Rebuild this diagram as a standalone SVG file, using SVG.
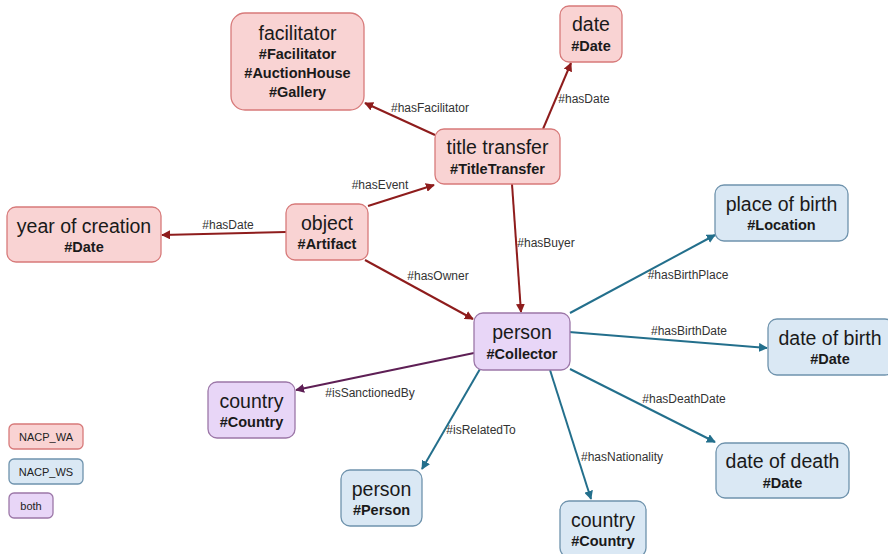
<svg xmlns="http://www.w3.org/2000/svg" width="888" height="554" viewBox="0 0 888 554">
<style>
text{font-family:"Liberation Sans",Arial,sans-serif;fill:#1a1a1a;text-anchor:middle}
.t{font-size:19.5px}
.b{font-size:14.5px;font-weight:bold}
.l{font-size:12px;fill:#333}
.lg{font-size:11px;fill:#222}
.wa{fill:#f9d3d3;stroke:#d77a7a;stroke-width:1.3}
.ws{fill:#dae8f4;stroke:#6f93ad;stroke-width:1.3}
.bo{fill:#e8d6f7;stroke:#9c77a8;stroke-width:1.3}
.er{stroke:#8e1c1c;stroke-width:2;fill:none;marker-end:url(#ar)}
.eb{stroke:#236f8c;stroke-width:2;fill:none;marker-end:url(#ab)}
.ep{stroke:#5e1f55;stroke-width:2;fill:none;marker-end:url(#ap)}
</style>
<defs>
<marker id="ar" viewBox="0 0 10 10" refX="9" refY="5" markerWidth="4.5" markerHeight="4.5" orient="auto" markerUnits="strokeWidth"><path d="M0,0 L10,5 L0,10 z" fill="#8e1c1c"/></marker>
<marker id="ab" viewBox="0 0 10 10" refX="9" refY="5" markerWidth="4.5" markerHeight="4.5" orient="auto" markerUnits="strokeWidth"><path d="M0,0 L10,5 L0,10 z" fill="#236f8c"/></marker>
<marker id="ap" viewBox="0 0 10 10" refX="9" refY="5" markerWidth="4.5" markerHeight="4.5" orient="auto" markerUnits="strokeWidth"><path d="M0,0 L10,5 L0,10 z" fill="#5e1f55"/></marker>
</defs>
<rect width="888" height="554" fill="#ffffff"/>
<g id="connectors">
<line class="er" x1="435" y1="135" x2="365" y2="103"/>
<line class="er" x1="543" y1="129" x2="571" y2="63"/>
<line class="er" x1="368" y1="206" x2="434" y2="185"/>
<line class="er" x1="286" y1="232" x2="162" y2="235"/>
<line class="er" x1="365" y1="260" x2="473" y2="319"/>
<line class="er" x1="512" y1="184" x2="521" y2="312"/>
<line class="eb" x1="570" y1="313" x2="715" y2="235"/>
<line class="eb" x1="569" y1="332" x2="767" y2="348"/>
<line class="ep" x1="474" y1="353" x2="296" y2="390"/>
<line class="eb" x1="480" y1="369" x2="422" y2="469"/>
<line class="eb" x1="550" y1="370" x2="591" y2="499"/>
<line class="eb" x1="570" y1="369" x2="715" y2="442"/>
<text class="l" x="430" y="112">#hasFacilitator</text>
<text class="l" x="584" y="103">#hasDate</text>
<text class="l" x="380" y="189">#hasEvent</text>
<text class="l" x="228" y="229">#hasDate</text>
<text class="l" x="438" y="280">#hasOwner</text>
<text class="l" x="546" y="247">#hasBuyer</text>
<text class="l" x="688" y="279">#hasBirthPlace</text>
<text class="l" x="689" y="335">#hasBirthDate</text>
<text class="l" x="370" y="397">#isSanctionedBy</text>
<text class="l" x="481" y="434">#isRelatedTo</text>
<text class="l" x="622" y="461">#hasNationality</text>
<text class="l" x="684" y="403">#hasDeathDate</text>
</g>
<g id="n-facilitator"><rect class="wa" x="231" y="13" width="133" height="97" rx="14"/><text class="t" x="297.5" y="40">facilitator</text><text class="b" x="297.5" y="59">#Facilitator</text><text class="b" x="297.5" y="78">#AuctionHouse</text><text class="b" x="297.5" y="97">#Gallery</text></g>
<g id="n-date"><rect class="wa" x="560" y="6" width="62" height="56" rx="9"/><text class="t" x="591" y="31">date</text><text class="b" x="591" y="51">#Date</text></g>
<g id="n-titletransfer"><rect class="wa" x="435" y="129" width="125" height="55" rx="9"/><text class="t" x="497.5" y="154">title transfer</text><text class="b" x="497.5" y="174">#TitleTransfer</text></g>
<g id="n-yearofcreation"><rect class="wa" x="7" y="207" width="154" height="55" rx="9"/><text class="t" x="84" y="233">year of creation</text><text class="b" x="84" y="252">#Date</text></g>
<g id="n-object"><rect class="wa" x="286" y="204" width="82" height="56" rx="9"/><text class="t" x="327" y="230">object</text><text class="b" x="327" y="249">#Artifact</text></g>
<g id="n-placeofbirth"><rect class="ws" x="715" y="185" width="133" height="56" rx="9"/><text class="t" x="781.5" y="211">place of birth</text><text class="b" x="781.5" y="230">#Location</text></g>
<g id="n-collector"><rect class="bo" x="474" y="313" width="96" height="57" rx="9"/><text class="t" x="522" y="339">person</text><text class="b" x="522" y="359">#Collector</text></g>
<g id="n-dateofbirth"><rect class="ws" x="768" y="319" width="126" height="56" rx="9"/><text class="t" x="830" y="345">date of birth</text><text class="b" x="830" y="364">#Date</text></g>
<g id="n-country-sanction"><rect class="bo" x="208" y="382" width="87" height="56" rx="9"/><text class="t" x="251.5" y="408">country</text><text class="b" x="251.5" y="427">#Country</text></g>
<g id="n-person"><rect class="ws" x="341" y="470" width="81" height="56" rx="9"/><text class="t" x="381.5" y="496">person</text><text class="b" x="381.5" y="515">#Person</text></g>
<g id="n-country-nat"><rect class="ws" x="560" y="501" width="86" height="56" rx="9"/><text class="t" x="603" y="527">country</text><text class="b" x="603" y="546">#Country</text></g>
<g id="n-dateofdeath"><rect class="ws" x="716" y="443" width="133" height="55" rx="9"/><text class="t" x="782.5" y="468">date of death</text><text class="b" x="782.5" y="488">#Date</text></g>
<g id="legend-wa"><rect class="wa" x="9" y="424" width="74" height="25" rx="5"/><text class="lg" x="46" y="440.5">NACP_WA</text></g>
<g id="legend-ws"><rect class="ws" x="9" y="459" width="74" height="25" rx="5"/><text class="lg" x="46" y="475.5">NACP_WS</text></g>
<g id="legend-both"><rect class="bo" x="9" y="493" width="44" height="25" rx="5"/><text class="lg" x="31" y="509.5">both</text></g>
</svg>
